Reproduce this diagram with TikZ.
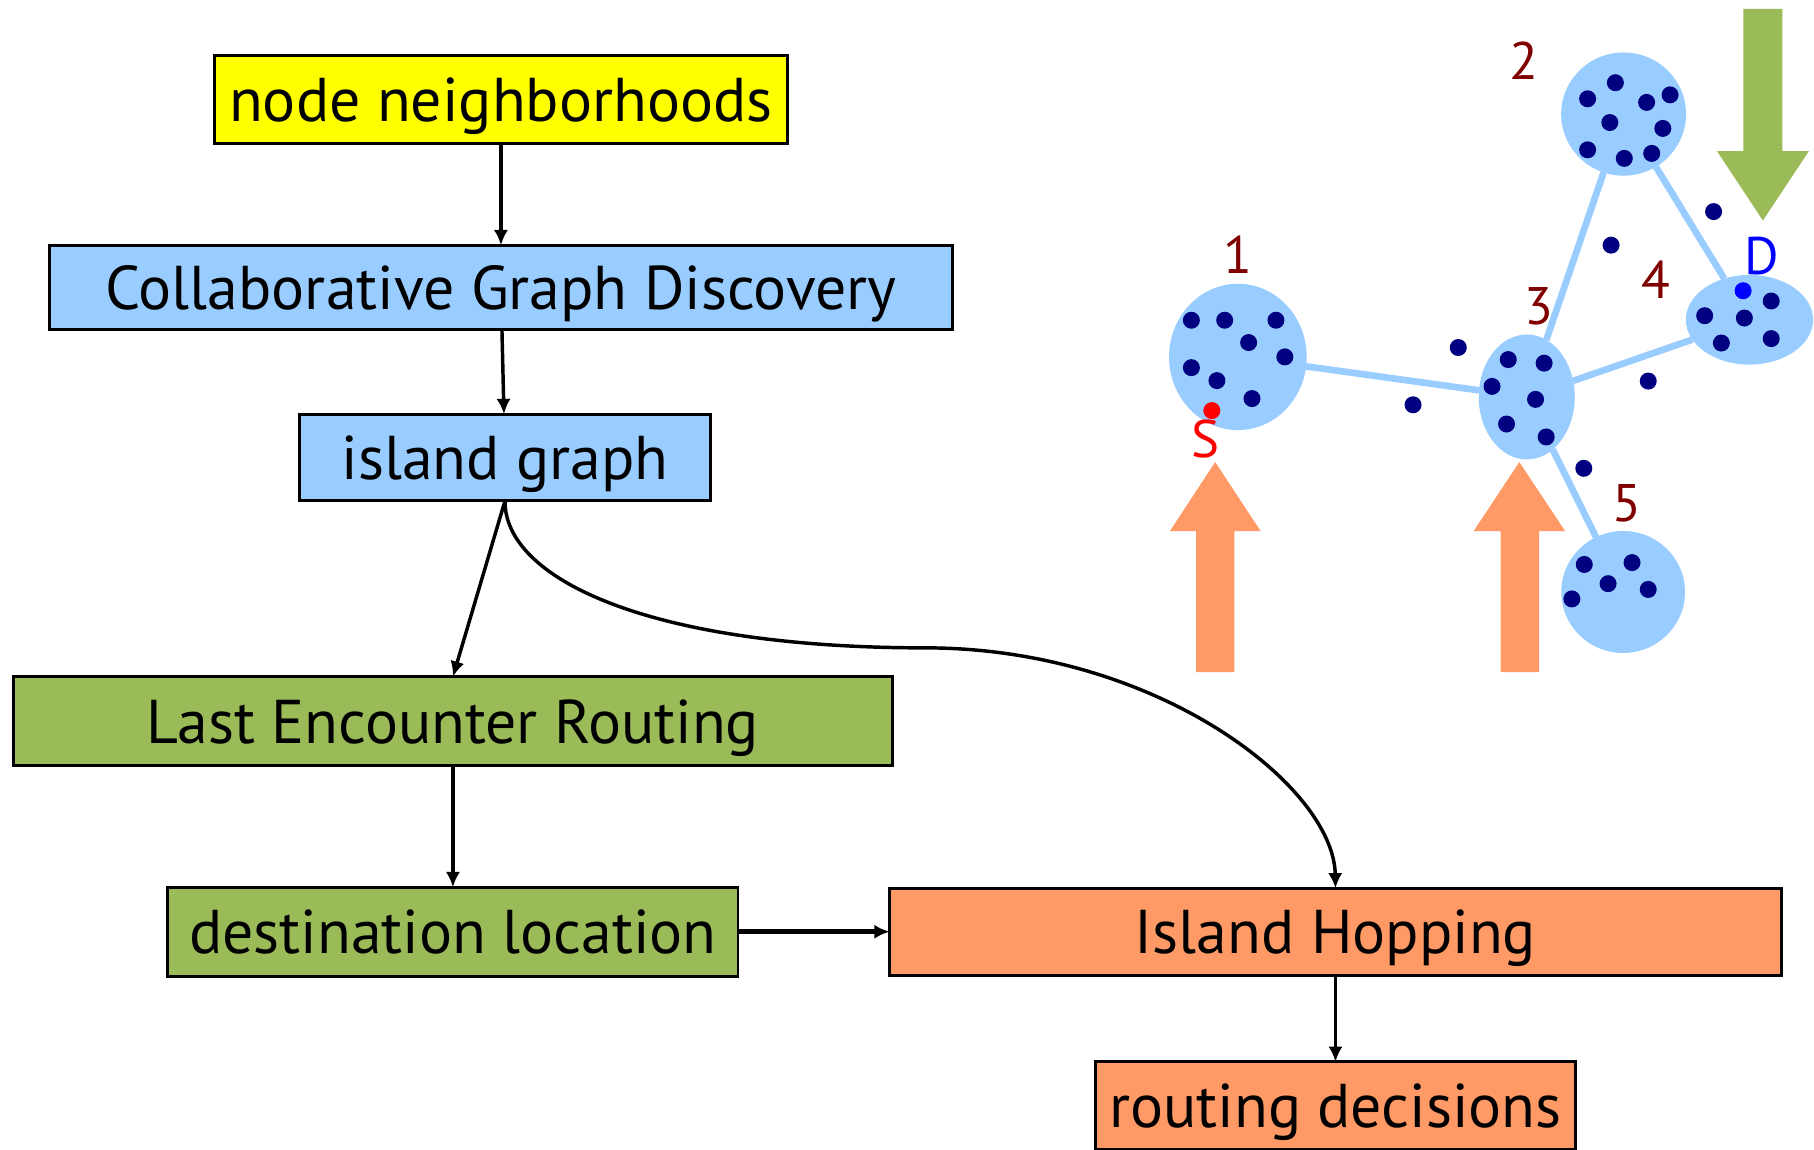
\documentclass[tikz,border=0pt]{standalone}
\usepackage{fontspec}
\setmainfont{PT Sans}
\usetikzlibrary{arrows.meta,shapes,positioning}

\definecolor{boxyellow}{HTML}{FFFF00}
\definecolor{boxblue}{HTML}{99CCFF}
\definecolor{boxgreen}{HTML}{9BBB59}
\definecolor{boxorange}{HTML}{FF9966}
\definecolor{islandred}{HTML}{800000}
\definecolor{dotblue}{HTML}{000080}

\begin{document}
\begin{tikzpicture}[
        x=0.02cm, y=-0.02cm,
        >={Latex[length=7.5pt,width=7pt]},
        box/.style={draw, line width=1.4pt, inner sep=0pt, outer sep=0pt, minimum height=1.52cm,
            text height=0.8cm, text depth=0.04cm, font=\fontsize{30.4}{35}\selectfont},
        flow/.style={->, line width=1.7pt},
        island/.style={ellipse, fill=boxblue, inner sep=0pt, outer sep=0pt},
        link/.style={draw=boxblue, line width=3.3pt},
        num/.style={inner sep=0pt, font=\fontsize{26}{30}\selectfont},
        bigarrow/.style={fill=boxorange}
    ]
    \useasboundingbox (0,0) rectangle (1568,994);

    % Nodes
    \node (nn)[box, fill=boxyellow, minimum width=9.92cm] at (433,86) {node neighborhoods};
    \node (cgd)[box, fill=boxblue, minimum width=15.62cm, minimum height=1.46cm, below=1.76cm of nn] {Collaborative Graph Discovery};
    \node (ig)[box, fill=boxblue, minimum width=7.12cm, minimum height=1.5cm, below=1.46cm of cgd, xshift=0.07cm] {island graph};
    \node (ler)[box, fill=boxgreen, minimum width=15.2cm, minimum height=1.54cm, below=3.04cm of ig, xshift=-0.9cm] {Last Encounter Routing};
    \node (dl)[box, fill=boxgreen, minimum width=9.86cm, minimum height=1.54cm, below=2.1cm of ler] {destination location};
    \node (ih)[box, fill=boxorange, minimum width=15.42cm, minimum height=1.5cm, right=2.62cm of dl] {Island Hopping};
    \node (rd)[box, fill=boxorange, minimum width=8.3cm, below=1.5cm of ih] {routing decisions};

    % Edges
    \draw[flow] (nn) -- (cgd);
    \draw[flow] (cgd) -- (ig);
    \draw[flow] (ig.south) -- (ler.north);
    \draw[flow] (ig.south) .. controls (436,500) and (560,560) .. (800,560)
        .. controls (1000,560) and (1153,680) .. (ih.north);
    \draw[flow] (ler) -- (dl);
    \draw[flow, line width=2.2pt] (dl) -- (ih);
    \draw[flow] (ih) -- (rd);

    % Islands
    \node (i1)[island, minimum width=2.38cm, minimum height=2.53cm] at (1070,308.5) {};
    \node (i2)[island, minimum width=2.16cm, minimum height=2.13cm] at (1403.4,98.6) {};
    \node (i3)[island, minimum width=1.66cm, minimum height=2.16cm] at (1319.7,343.1) {};
    \node (i4)[island, minimum width=2.2cm, minimum height=1.55cm] at (1512.2,276.4) {};
    \node (i5)[island, minimum width=2.14cm, minimum height=2.11cm] at (1403,511.7) {};

    \draw[link] (i1) -- (i3);
    \draw[link] (i3) -- (i2);
    \draw[link] (i2) -- (i4);
    \draw[link] (i3) -- (i4);
    \draw[link] (i3) -- (i5);

    % Mobile nodes
    \foreach \x/\y in {1029.8/276.8, 1058.6/276.8, 1102.9/276.8, 1079.3/296.1, 1110.6/308.5,
            1029.8/317.8, 1051.9/329, 1082.2/344.5,
            1396.3/71.5, 1372.3/85.4, 1423.3/88.5, 1443.6/82, 1391.5/105.9, 1437.3/111,
            1372.3/129.5, 1404/136.9, 1427.7/132.6,
            1303.7/310.8, 1334.7/313.9, 1289.7/334, 1327.3/345.2, 1302.2/366.5, 1336.5/377.7,
            1531/260.2, 1473.5/272.9, 1507.8/274.9, 1487.9/296.5, 1531/292.7,
            1369.4/487.9, 1410.7/486.3, 1390/504.5, 1358.7/517.7, 1424.7/509.5,
            1260.5/300.4, 1221.4/349.9, 1392.6/211.9, 1481.2/182.9, 1424.7/329.4, 1369/404.8}
        \fill[dotblue] (\x,\y) circle (0.147cm);
    \fill[red] (1047.5,354.9) circle (0.147cm);
    \fill[blue] (1506.7,251.3) circle (0.147cm);

    % Labels
    \node (l1)[num, text=islandred] at (1069.7,220.4) {1};
    \node (l2)[num, text=islandred] at (1317.4,52.6) {2};
    \node (l3)[num, text=islandred] at (1329.9,264.8) {3};
    \node (l4)[num, text=islandred] at (1431.4,241.6) {4};
    \node (l5)[num, text=islandred] at (1406.3,434.9) {5};
    \node (src)[num, text=red] at (1042.4,379.6) {S};
    \node (dst)[num, text=blue] at (1523.1,221.7) {D};

    % Block arrows
    \fill[boxorange] (1034,581) -- (1034,459) -- (1011.3,459) -- (1050.4,399.4)
        -- (1089.6,459) -- (1067,459) -- (1067,581) -- cycle;
    \fill[boxorange] (1297,581) -- (1297,459) -- (1273.8,459) -- (1313.3,399.4)
        -- (1352.8,459) -- (1330.3,459) -- (1330.3,581) -- cycle;
    \fill[boxgreen] (1507,7.7) -- (1507,130.7) -- (1484.2,130.7) -- (1523.8,190.6)
        -- (1563.5,130.7) -- (1540.6,130.7) -- (1540.6,7.7) -- cycle;

\end{tikzpicture}
\end{document}
